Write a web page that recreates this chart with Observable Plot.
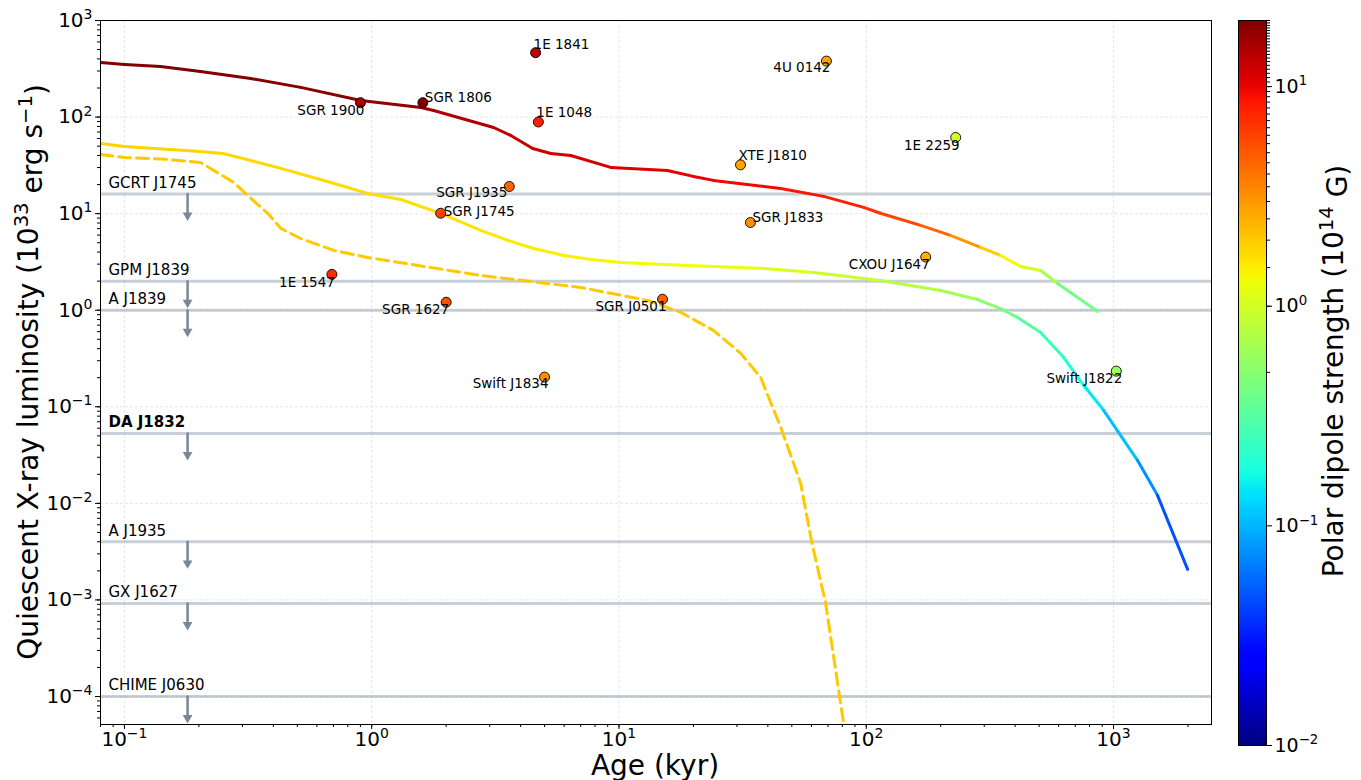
<!DOCTYPE html>
<html>
<head>
<meta charset="utf-8">
<script src="https://cdn.jsdelivr.net/npm/d3@7"></script>
<script src="https://cdn.jsdelivr.net/npm/@observablehq/plot@0.6"></script>
<style>
  html, body { margin: 0; padding: 0; background: white; }
  #wrap { position: relative; width: 1361px; height: 780px; font-family: "DejaVu Sans", sans-serif; }
  #wrap svg { position: absolute; top: 0; overflow: visible; }
</style>
</head>
<body>
<div id="wrap"></div>
<script>
// ---------------- Data ----------------
// Upper limits on quiescent X-ray luminosity (10^33 erg/s) for long-period radio transients
const limitNames = ["GCRT J1745", "GPM J1839", "A J1839", "DA J1832", "A J1935", "GX J1627", "CHIME J0630"];
const limitL = [16, 2.0, 1.0, 0.053, 0.004, 0.00092, 0.0001];
const limitBold = ["DA J1832"];
const arrowAge = 0.18; // kyr, where the upper-limit arrows sit

// Magnetars
const magNames = ["SGR 1900", "SGR 1806", "1E 1841", "1E 1048", "4U 0142", "XTE J1810", "SGR J1935", "SGR J1745",
                  "SGR J1833", "1E 2259", "CXOU J1647", "1E 1547", "SGR 1627", "SGR J0501", "Swift J1834", "Swift J1822"];
const magAge = [0.90, 1.61, 4.6, 4.72, 69, 31, 3.6, 1.9, 34, 230, 174, 0.69, 2.0, 15, 5.0, 1026];
const magL   = [141, 141, 464, 89, 380, 32, 19.1, 10.1, 8.1, 61.5, 3.55, 2.35, 1.21, 1.30, 0.203, 0.234];
const magB   = [15, 20, 13, 8, 2.7, 2.7, 4.5, 6, 3.2, 1.0, 2.45, 7, 5.3, 4.7, 3.2, 0.6];

// Evolutionary track 1 (high field)
const redAge = [0.0802, 0.1, 0.14, 0.203, 0.324, 0.516, 0.903, 1.58, 1.78, 3.11, 3.65, 4.48, 5.30, 6.38, 9.26, 15.7,
                20.0, 24.1, 45.1, 67.3, 97.6, 114, 166, 219, 290, 349, 421, 507, 594, 863];
const redL = [367, 350, 334, 297, 251, 203, 148.6, 125.7, 117, 78, 64.5, 47.3, 42.0, 40.0, 30.1, 28.0,
              24.3, 22.1, 18.2, 15.1, 11.6, 10.1, 7.55, 5.95, 4.47, 3.69, 2.84, 2.58, 1.89, 0.97];
const redB = [20, 20, 20, 20, 19.5, 19, 18.5, 17, 16, 13.5, 13, 12, 11.7, 11.5, 11, 10.6,
              10.3, 10, 9, 8.2, 7.5, 6.5, 5.3, 3.8, 2.4, 1.6, 1.2, 0.85, 0.55, 0.3];

// Evolutionary track 2 (moderate field)
const yelAge = [0.0802, 0.1, 0.203, 0.25, 0.287, 0.429, 0.683, 0.963, 1.31, 1.90, 2.76, 3.55, 4.52, 5.98, 7.68, 10.2, 15.2,
                24.1, 38.5, 61.3, 114, 200, 282, 349, 409, 507, 628, 757, 912, 1250, 1506, 1994];
const yelL = [53.3, 49.6, 44.1, 42.0, 38.5, 29.4, 21.0, 16.2, 14.0, 10.05, 6.70, 5.28, 4.36, 3.69, 3.36, 3.12, 2.98,
              2.84, 2.71, 2.46, 2.03, 1.60, 1.29, 1.04, 0.842, 0.589, 0.325, 0.167, 0.092, 0.0279, 0.0121, 0.00207];
const yelB = [1.85, 1.85, 1.8, 1.79, 1.78, 1.75, 1.72, 1.7, 1.68, 1.65, 1.6, 1.55, 1.5, 1.45, 1.4, 1.35, 1.3,
              1.25, 1.15, 1.02, 0.85, 0.7, 0.57, 0.45, 0.36, 0.28, 0.21, 0.165, 0.13, 0.09, 0.065, 0.035];

// Evolutionary track 3 (dashed, constant field colour)
const dashAge = [0.0802, 0.1, 0.147, 0.203, 0.230, 0.277, 0.315, 0.380, 0.429, 0.516, 0.702, 0.963, 2.76, 7.0, 13.1,
                 17.8, 24.1, 31.1, 37.4, 45.1, 54.3, 60.1, 68.5, 78.0, 81.1];
const dashL = [41.0, 38.2, 36.5, 33.9, 28.0, 21.0, 15.4, 10.05, 7.03, 5.53, 4.16, 3.52, 2.29, 1.72, 1.26,
               0.949, 0.618, 0.357, 0.201, 0.0612, 0.0161, 0.00404, 0.000923, 0.0001, 0.0000515];
const dashB = 2.0;

// Tick values
const xMajor = [0.1, 1, 10, 100, 1000];
const yMajor = [1e-4, 1e-3, 1e-2, 1e-1, 1, 10, 100, 1000];
const cbMajor = [0.01, 0.1, 1, 10];

// Label placement (pixel offsets from each marker; anchor side)
const labelPlace = {
  "SGR 1900":   {a: "end",   dx: 4,  dy: 8},
  "SGR 1806":   {a: "start", dx: 2,  dy: -5},
  "1E 1841":    {a: "start", dx: -2, dy: -8},
  "1E 1048":    {a: "start", dx: -2, dy: -9},
  "4U 0142":    {a: "end",   dx: 4,  dy: 7},
  "XTE J1810":  {a: "start", dx: -2, dy: -9},
  "SGR J1935":  {a: "end",   dx: -2, dy: 6},
  "SGR J1745":  {a: "start", dx: 3,  dy: -2},
  "SGR J1833":  {a: "start", dx: 2,  dy: -5},
  "1E 2259":    {a: "end",   dx: 4,  dy: 8},
  "CXOU J1647": {a: "end",   dx: 4,  dy: 8},
  "1E 1547":    {a: "end",   dx: 3,  dy: 8},
  "SGR 1627":   {a: "end",   dx: 3,  dy: 7},
  "SGR J0501":  {a: "end",   dx: 4,  dy: 7},
  "Swift J1834":{a: "end",   dx: 4,  dy: 7},
  "Swift J1822":{a: "end",   dx: 6,  dy: 8}
};

// ---------------- Helpers ----------------
function jet(t) {
  t = Math.max(0, Math.min(1, t));
  const seg = (pts) => {
    for (let i = 1; i < pts.length; i++) {
      if (t <= pts[i][0]) {
        const [t0, v0] = pts[i - 1], [t1, v1] = pts[i];
        return v0 + (v1 - v0) * (t - t0) / (t1 - t0);
      }
    }
    return pts[pts.length - 1][1];
  };
  const r = seg([[0, 0], [0.35, 0], [0.66, 1], [0.89, 1], [1, 0.5]]);
  const g = seg([[0, 0], [0.125, 0], [0.375, 1], [0.64, 1], [0.91, 0], [1, 0]]);
  const b = seg([[0, 0.5], [0.11, 1], [0.34, 1], [0.65, 0], [1, 0]]);
  return `rgb(${Math.round(r * 255)},${Math.round(g * 255)},${Math.round(b * 255)})`;
}
const colorOpts = {type: "log", domain: [0.01, 20], interpolate: jet};
const expFmt = (d) => "10^" + Math.round(Math.log10(d));

function segments(ages, Ls, Bs) {
  const out = [];
  for (let i = 0; i < ages.length - 1; i++) {
    out.push({x1: ages[i], y1: Ls[i], x2: ages[i + 1], y2: Ls[i + 1], B: Math.sqrt(Bs[i] * Bs[i + 1])});
  }
  return out;
}

const limits = limitNames.map((name, i) => ({name, L: limitL[i]}));
const mags = magNames.map((name, i) => ({name, age: magAge[i], L: magL[i], B: magB[i]}));
const dashed = dashAge.map((a, i) => ({age: a, L: dashL[i]}));
const redSegs = segments(redAge, redL, redB);
const yelSegs = segments(yelAge, yelL, yelB);

function supify(svg) {
  d3.select(svg).selectAll("text").each(function () {
    const m = /^10\^(-?\d+)$/.exec(this.textContent);
    if (!m) return;
    const el = d3.select(this);
    el.text(null);
    el.append("tspan").text("10");
    el.append("tspan").attr("dy", "-0.55em").attr("font-size", "0.7em").text(m[1].replace("-", "\u2212"));
  });
}

const magLabelMarks = mags.map((d) => {
  const p = labelPlace[d.name];
  return Plot.text([d], {x: "age", y: "L", text: "name", textAnchor: p.a, dx: p.dx, dy: p.dy, fontSize: 13.5, fill: "black"});
});

// ---------------- Main chart ----------------
const limitColor = "#778899";
const main = Plot.plot({
  width: 1225,
  height: 780,
  marginLeft: 100,
  marginRight: 14,
  marginTop: 20,
  marginBottom: 56,
  x: {type: "log", domain: [0.08, 2490]},
  y: {type: "log", domain: [5.13e-5, 1000]},
  color: colorOpts,
  style: {fontFamily: "DejaVu Sans", fontSize: "20px", color: "black", background: "white"},
  marks: [
    Plot.gridX(xMajor, {stroke: "#e0e0e0", strokeOpacity: 1, strokeDasharray: "3,2", strokeWidth: 0.8}),
    Plot.gridY(yMajor, {stroke: "#e0e0e0", strokeOpacity: 1, strokeDasharray: "3,2", strokeWidth: 0.8}),
    Plot.ruleY(limitL, {stroke: limitColor, strokeOpacity: 0.4, strokeWidth: 3}),
    Plot.vector(limitL, {x: () => arrowAge, y: (d) => d, length: 20, rotate: 180, anchor: "start",
                         stroke: limitColor, strokeWidth: 2.5, r: 0}),
    Plot.dot(limitL, {x: () => arrowAge, y: (d) => d, symbol: "triangle", rotate: 180, r: 3.6, dy: 21.4,
                      fill: limitColor, stroke: "none"}),
    Plot.text(limits.filter((d) => !limitBold.includes(d.name)),
              {y: "L", text: "name", frameAnchor: "left", textAnchor: "start", dx: 8, dy: -11, fontSize: 15, fill: "black"}),
    Plot.text(limits.filter((d) => limitBold.includes(d.name)),
              {y: "L", text: "name", frameAnchor: "left", textAnchor: "start", dx: 8, dy: -11, fontSize: 15,
               fontWeight: "bold", fill: "black"}),
    Plot.line(dashed, {x: "age", y: "L", stroke: () => dashB, strokeWidth: 3, strokeDasharray: "12,6", clip: true}),
    Plot.link(yelSegs, {x1: "x1", y1: "y1", x2: "x2", y2: "y2", stroke: "B", strokeWidth: 3, strokeLinecap: "round", clip: true}),
    Plot.link(redSegs, {x1: "x1", y1: "y1", x2: "x2", y2: "y2", stroke: "B", strokeWidth: 3, strokeLinecap: "round", clip: true}),
    Plot.dot(mags, {x: "age", y: "L", fill: "B", r: 5, stroke: "black", strokeWidth: 0.9}),
    ...magLabelMarks,
    Plot.frame({stroke: "black", strokeWidth: 1}),
    Plot.axisX(xMajor, {anchor: "bottom", tickSize: 5, tickPadding: 2, tickFormat: expFmt, fontSize: 20, label: null}),
    Plot.axisX({anchor: "bottom", ticks: 60, tickSize: 3, tickFormat: () => "", label: null}),
    Plot.axisY(yMajor, {anchor: "left", tickSize: 5, tickPadding: 3, tickFormat: expFmt, fontSize: 20, label: null}),
    Plot.axisY({anchor: "left", ticks: 80, tickSize: 3, tickFormat: () => "", label: null})
  ]
});
supify(main);

const ms = d3.select(main);
const yLab = ms.append("text")
  .attr("transform", "translate(38,372) rotate(-90)")
  .attr("text-anchor", "middle")
  .attr("font-size", 28)
  .attr("font-family", "DejaVu Sans")
  .attr("fill", "black");
yLab.append("tspan").text("Quiescent X-ray luminosity (10");
yLab.append("tspan").attr("dy", "-0.5em").attr("font-size", "0.7em").text("33");
yLab.append("tspan").attr("dy", "0.5em").text(" erg s");
yLab.append("tspan").attr("dy", "-0.5em").attr("font-size", "0.7em").text("\u22121");
yLab.append("tspan").attr("dy", "0.5em").text(")");

ms.append("text")
  .attr("x", 655).attr("y", 775)
  .attr("text-anchor", "middle")
  .attr("font-size", 28)
  .attr("font-family", "DejaVu Sans")
  .attr("fill", "black")
  .text("Age (kyr)");

main.style.left = "0px";
document.getElementById("wrap").appendChild(main);

// ---------------- Colorbar ----------------
const cbSteps = d3.range(0, 401).map((i) => 0.01 * Math.pow(2000, i / 400));
const cbRects = cbSteps.slice(0, -1).map((v, i) => ({a: v, b: cbSteps[i + 1], m: Math.sqrt(v * cbSteps[i + 1])}));
const cb = Plot.plot({
  width: 136,
  height: 780,
  marginLeft: 13,
  marginRight: 95,
  marginTop: 20,
  marginBottom: 35,
  y: {type: "log", domain: [0.01, 20]},
  color: colorOpts,
  style: {fontFamily: "DejaVu Sans", fontSize: "19px", color: "black", background: "transparent"},
  marks: [
    Plot.rect(cbRects, {y1: "a", y2: "b", fill: "m", shapeRendering: "crispEdges", inset: 0}),
    Plot.frame({stroke: "black", strokeWidth: 1}),
    Plot.axisY(cbMajor, {anchor: "right", tickSize: 5, tickPadding: 3, tickFormat: expFmt, fontSize: 19, label: null}),
    Plot.axisY({anchor: "right", ticks: 60, tickSize: 3, tickFormat: () => "", label: null})
  ]
});
supify(cb);
const cbs = d3.select(cb);
const cLab = cbs.append("text")
  .attr("transform", "translate(118,371) rotate(-90)")
  .attr("text-anchor", "middle")
  .attr("font-size", 28)
  .attr("font-family", "DejaVu Sans")
  .attr("fill", "black");
cLab.append("tspan").text("Polar dipole strength (10");
cLab.append("tspan").attr("dy", "-0.5em").attr("font-size", "0.7em").text("14");
cLab.append("tspan").attr("dy", "0.5em").text(" G)");

cb.style.left = "1225px";
document.getElementById("wrap").appendChild(cb);
</script>
</body>
</html>
